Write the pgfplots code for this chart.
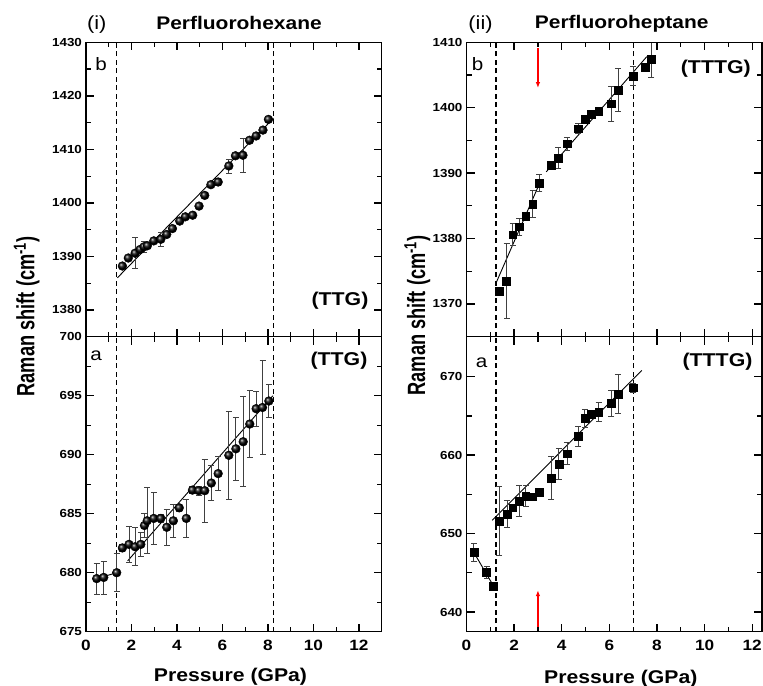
\documentclass[border=0pt]{standalone}
\usepackage{pgfplots}
\pgfplotsset{compat=1.18}
\usepackage{fontspec}
\setmainfont{Liberation Sans}[FakeStretch=1.15]
\newfontfamily\ylabfont{Liberation Sans}
\usetikzlibrary{arrows.meta}

\pgfplotsset{
  panel/.style={
    scale only axis, width=295.7bp,
    xmin=0, axis on top,
    line width=1.5bp,
    axis line style={line width=1.5bp},
    tick align=inside, tick pos=both,
    major tick length=8bp, minor tick length=5bp,
    every tick/.style={black, line width=1.4bp},
    every minor tick/.style={black, line width=1.2bp},
    xtick={0,2,...,12}, minor xtick={1,3,...,13},
    scaled ticks=false,
    /pgf/number format/assume math mode=true,
    /pgf/number format/1000 sep={},
    yticklabel style={font=\fontsize{11.7}{12}\selectfont\bfseries},
    xticklabel style={font=\fontsize{15}{15}\selectfont\bfseries, yshift=-4bp},
    anchor=north west,
  },
  ebar/.style={error bars/.cd, y dir=both, y explicit,
    error bar style={line width=0.8bp, black!75},
    error mark options={rotate=90, mark size=3bp, line width=0.8bp, black!75}},
  ballpts/.style={black, only marks, mark=ball, mark size=4.4bp, mark options={ball color=black, line width=0.4bp}, ebar},
  sqpts/.style={black, only marks, mark=square*, mark size=3.9bp, mark options={line width=0.4bp}, ebar},
  fitline/.style={black, line width=0.9bp, no marks},
  vdash/.style={black, line width=1.1bp, dash pattern=on 5bp off 3.5bp, no marks},
  redarrow/.style={red, line width=1.3bp, no marks, -{Latex[length=6bp,width=4.5bp]}},
}

\begin{document}
\begin{tikzpicture}
\useasboundingbox (0,0) rectangle (763bp,-686bp);

% ---------- left top (i) b ----------
\begin{axis}[panel, at={(86bp,-42.3bp)}, height=294.4bp,
  xmax=13, ymin=1375, ymax=1430,
  ytick={1380,1390,...,1430}, minor ytick={1375,1385,...,1425},
  xticklabels={}]
\addplot[vdash] coordinates {(1.35,1375) (1.35,1430)};
\addplot[vdash] coordinates {(8.25,1375) (8.25,1430)};
\addplot[fitline] coordinates {(1.38,1386.0) (8.24,1415.8)};
\addplot[ballpts] table[x=x, y=y, y error=e] {
x y e
1.60 1388.2 0
1.86 1389.7 0
2.16 1390.6 2.9
2.38 1391.3 0
2.55 1391.8 1.0
2.70 1392.0 0
2.98 1392.9 0
3.29 1393.2 1.3
3.55 1394.1 0
3.80 1395.2 0
4.12 1396.6 0
4.37 1397.4 0
4.69 1397.7 0
4.97 1399.4 0
5.22 1401.4 0
5.49 1403.4 0.5
5.81 1403.9 0.6
6.28 1406.9 1.3
6.57 1408.8 0
6.90 1408.9 3.2
7.19 1411.7 0
7.48 1412.5 0
7.78 1413.6 0
8.02 1415.6 0
};
\end{axis}

% ---------- left bottom (i) a ----------
\begin{axis}[panel, at={(86bp,-336.7bp)}, height=295bp,
  xmax=13, ymin=675, ymax=700,
  ytick={675,680,...,700}, minor ytick={677.5,682.5,...,697.5}]
\addplot[vdash] coordinates {(1.35,675) (1.35,700)};
\addplot[vdash] coordinates {(8.25,675) (8.25,700)};
\addplot[fitline] coordinates {(0.47,679.5) (1.35,680.0)};
\addplot[fitline] coordinates {(1.83,681.0) (8.22,695.0)};
\addplot[ballpts] table[x=x, y=y, y error=e] {
x y e
0.47 679.5 1.3
0.78 679.6 1.4
1.35 680.0 1.6
1.60 682.1 0.3
1.89 682.4 1.5
2.16 682.2 1.6
2.41 682.4 1.0
2.57 684.0 1.0
2.69 684.4 2.8
2.98 684.6 2.2
3.29 684.6 0.3
3.55 683.85 1.5
3.84 684.4 1.4
4.10 685.5 0.3
4.41 684.6 1.6
4.68 687.0 0.3
4.96 686.95 0.4
5.22 686.95 2.65
5.51 687.6 1.5
5.81 688.4 1.45
6.28 689.95 3.75
6.59 690.5 2.7
6.91 691.1 3.8
7.20 692.6 2.85
7.48 693.9 1.5
7.76 694.0 3.95
8.04 694.55 1.4
};
\end{axis}

% ---------- right top (ii) b ----------
\begin{axis}[panel, at={(466.5bp,-42.3bp)}, height=294.4bp, width=295.7bp,
  xmax=12.42, ymin=1365, ymax=1410,
  ytick={1370,1380,...,1410}, minor ytick={1365,1375,...,1405},
  xticklabels={}]
\addplot[vdash] coordinates {(1.24,1365) (1.24,1410)};
\addplot[vdash] coordinates {(7.0,1365) (7.0,1410)};
\addplot[fitline] coordinates {(1.24,1373.2) (3.1,1388.7)};
\addplot[fitline] coordinates {(3.35,1390.2) (7.57,1407.8)};
\addplot[redarrow] coordinates {(3,1409.1) (3,1403.0)};
\addplot[sqpts] table[x=x, y=y, y error=e] {
x y e
1.38 1372.0 0
1.68 1373.5 5.7
1.94 1380.6 1.7
2.22 1381.8 1.3
2.49 1383.4 0
2.78 1385.3 2.0
3.06 1388.5 1.3
3.55 1391.2 0
3.86 1392.3 1.6
4.22 1394.5 1.0
4.69 1396.8 0.8
4.97 1398.2 0
5.25 1399.0 0
5.55 1399.5 0
6.08 1400.6 2.7
6.36 1402.7 3.3
6.99 1404.85 1.5
7.50 1406.2 0
7.77 1407.4 2.8
};
\end{axis}

% ---------- right bottom (ii) a ----------
\begin{axis}[panel, at={(466.5bp,-336.7bp)}, height=295bp, width=295.7bp,
  xmax=12.42, ymin=637.5, ymax=675.1,
  ytick={640,650,660,670}, minor ytick={645,655,665}]
\addplot[vdash] coordinates {(1.24,637.5) (1.24,675.1)};
\addplot[vdash] coordinates {(7.0,637.5) (7.0,675.1)};
\addplot[fitline] coordinates {(0.31,647.6) (1.12,643.4)};
\addplot[fitline] coordinates {(1.08,651.7) (7.36,670.8)};
\addplot[redarrow] coordinates {(3,637.5) (3,642.8)};
\addplot[sqpts] table[x=x, y=y, y error=e] {
x y e
0.31 647.6 1.2
0.84 645.06 0.8
1.12 643.35 0
1.37 651.6 4.4
1.70 652.5 1.7
1.94 653.3 0
2.22 654.15 2.0
2.49 654.8 1.3
2.78 654.7 0
3.06 655.25 0
3.55 657.1 2.7
3.88 658.9 2.0
4.22 660.2 1.4
4.70 662.4 1.3
4.97 664.7 1.1
5.25 665.2 0
5.55 665.5 1.2
6.08 666.6 1.7
6.36 667.8 2.5
7.01 668.6 0.6
};
\end{axis}

% ---------- texts ----------
\node[anchor=center, font=\fontsize{19}{19}\selectfont] at (96.7bp,-24.2bp) {(i)};
\node[anchor=base, font=\fontsize{18.3}{18}\selectfont\bfseries] at (239bp,-29.3bp) {Perfluorohexane};
\node[anchor=center, font=\fontsize{19}{19}\selectfont] at (480.5bp,-25bp) {(ii)};
\node[anchor=base, font=\fontsize{18.3}{18}\selectfont\bfseries] at (621.7bp,-28.5bp) {Perfluoroheptane};

\node[anchor=center, font=\fontsize{18}{18}\selectfont] at (101bp,-63.7bp) {b};
\node[anchor=center, font=\fontsize{18}{18}\selectfont] at (96bp,-355.8bp) {a};
\node[anchor=center, font=\fontsize{18}{18}\selectfont] at (477.5bp,-63.7bp) {b};
\node[anchor=center, font=\fontsize{18}{18}\selectfont] at (481.7bp,-362.5bp) {a};

\node[anchor=center, font=\fontsize{18.6}{19}\selectfont\bfseries] at (340bp,-301bp) {(TTG)};
\node[anchor=center, font=\fontsize{18.6}{19}\selectfont\bfseries] at (339bp,-360.5bp) {(TTG)};
\node[anchor=center, font=\fontsize{18.6}{19}\selectfont\bfseries] at (715.8bp,-69bp) {(TTTG)};
\node[anchor=center, font=\fontsize{18.6}{19}\selectfont\bfseries] at (717.5bp,-361.7bp) {(TTTG)};

\node[anchor=base, font=\fontsize{18.5}{19}\selectfont\bfseries] at (230.5bp,-681.5bp) {Pressure (GPa)};
\node[anchor=base, font=\fontsize{18.5}{19}\selectfont\bfseries] at (620.8bp,-683bp) {Pressure (GPa)};

\node[rotate=90, yscale=1.37, anchor=base, font=\ylabfont\fontsize{18.3}{19}\selectfont\bfseries] at (34.5bp,-316.5bp) {Raman shift (cm\textsuperscript{-1})};
\node[rotate=90, yscale=1.37, anchor=base, font=\ylabfont\fontsize{18.3}{19}\selectfont\bfseries] at (425bp,-315.5bp) {Raman shift (cm\textsuperscript{-1})};
\end{tikzpicture}
\end{document}
